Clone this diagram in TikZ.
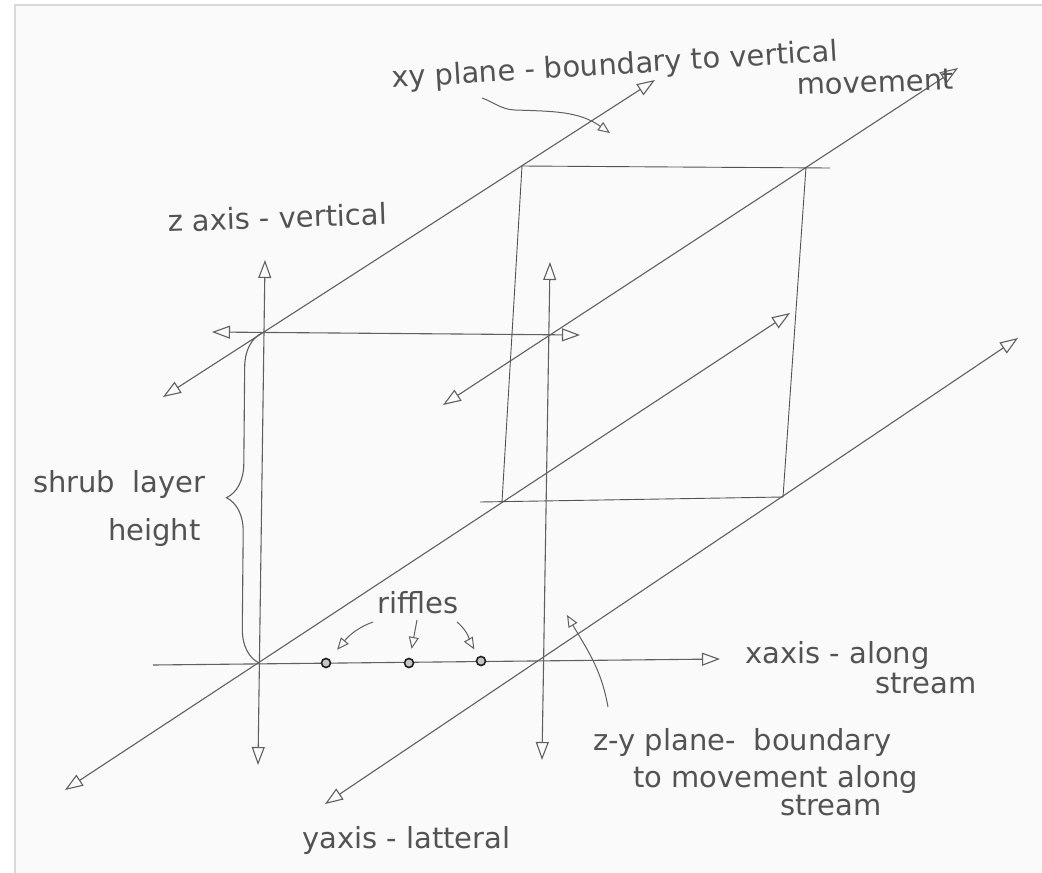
\documentclass[tikz,border=0pt]{standalone}
\usepackage{fontspec}
\setmainfont{DejaVu Sans}
\usepackage{tikz}
\usetikzlibrary{arrows.meta,positioning,decorations.pathreplacing,calc}

\begin{document}
\begin{tikzpicture}[
  x=1pt, y=-1pt,
  pencil/.style={draw=gray!75!black, line width=1.1pt},
  axis/.style={pencil, {Triangle[open,length=18pt,width=13pt]}-{Triangle[open,length=18pt,width=13pt]}},
  ray/.style={pencil, -{Triangle[open,length=18pt,width=13pt]}},
  guide/.style={draw=gray!65!black, line width=0.9pt},
  note/.style={pencil, line width=1pt, -{Triangle[open,length=12pt,width=10pt]}},
  lbl/.style={text=gray!65!black, font=\fontsize{29}{33}\selectfont, inner sep=0pt, anchor=base west},
  riffle/.style={circle, draw=gray!25!black, line width=1.6pt, fill=gray!45, inner sep=0pt, minimum size=9pt}
]
\useasboundingbox (0,0) rectangle (1042,873);
% scanned sheet
\fill[white] (0,0) rectangle (1042,873);
\fill[gray!4] (15,5) rectangle (1042,873);
\draw[gray!30, line width=1.5pt] (15,873) -- (15,5) -- (1042,5);

% front frame
\coordinate (O) at (259,663);
\coordinate (zT) at (262,333);
\coordinate (z1b) at (258,765);
\coordinate (z1t) at (265,260);
\coordinate (z2b) at (542,760);
\coordinate (z2t) at (550,262);
\coordinate (xs) at (153,665);
\coordinate (xe) at (720,659);
\coordinate (hs) at (212,332);
\coordinate (he) at (580,335);
% lateral lines
\coordinate (ya) at (65,790);
\coordinate (yb) at (790,313);
\coordinate (ba) at (163,397);
\coordinate (bb) at (655,80);
\coordinate (ca) at (443,405);
\coordinate (cb) at (958,68);
\coordinate (da) at (325,804);
\coordinate (db) at (1018,338);
% back plane
\coordinate (p1) at (522,166);
\coordinate (p2) at (806,167);
\coordinate (p2x) at (830,168);
\coordinate (p3) at (783,497);
\coordinate (p4) at (502,502);
\coordinate (p4x) at (480,502);

\draw[axis] (z1b) -- (z1t);
\draw[axis] (z2b) -- (z2t);
\draw[ray] (xs) -- (xe);
\draw[axis] (hs) -- (he);
\draw[axis] (ya) -- (yb);
\draw[axis] (ba) -- (bb);
\draw[axis] (ca) -- (cb);
\draw[axis] (da) -- (db);

\draw[guide] (p1) -- (p2x);
\draw[guide] (p1) -- (p4);
\draw[guide] (p2) -- (p3);
\draw[guide] (p4x) -- (p3);

\draw[pencil, decorate, decoration={brace, amplitude=34pt}] (O) -- (zT);

% riffles
\node[riffle] (r1) at (326,663) {};
\node[riffle] (r2) at (409,663) {};
\node[riffle] (r3) at (481,661) {};
\node[lbl] (rif) at (377,613) {riffles};
\coordinate (rfa) at (373,622);
\coordinate (rfb) at (417,620);
\coordinate (rfc) at (457,622);
\draw[note, shorten >=12pt] (rfa) to[out=200,in=50] (r1);
\draw[note, shorten >=9pt] (rfb) -- (r2);
\draw[note, shorten >=8pt] (rfc) to[out=-40,in=120] (r3);

% labels
\node[lbl, rotate=3.5] (xyl) at (392,88) {xy plane - boundary to vertical};
\node[lbl, rotate=2] (mov) at (797,95) {movement};
\node[lbl, rotate=2] (zl) at (168,232) {z axis - vertical};
\node[lbl] (shr) at (33,492) {shrub\hspace{0.6em}layer};
\node[lbl] (hgt) at (108,540) {height};
\node[lbl] (xl) at (745,663) {xaxis - along};
\node[lbl] (xl2) at (875,693) {stream};
\node[lbl] (zyl) at (593,750) {z-y plane-\hspace{0.3em} boundary};
\node[lbl] (zyl2) at (633,787) {to movement along};
\node[lbl] (zyl3) at (780,815) {stream};
\node[lbl] (yl) at (302,848) {yaxis - latteral};

% plane pointers
\coordinate (xyn) at (482,98);
\coordinate (xyk) at (515,110);
\coordinate (xyp) at (610,133);
\draw[note] (xyn) to[out=-20,in=178] (xyk) to[out=-2,in=145] (xyp);
\coordinate (zyn) at (608,707);
\coordinate (zyp) at (567,615);
\draw[note] (zyn) to[out=100,in=-60] (zyp);
\end{tikzpicture}
\end{document}
